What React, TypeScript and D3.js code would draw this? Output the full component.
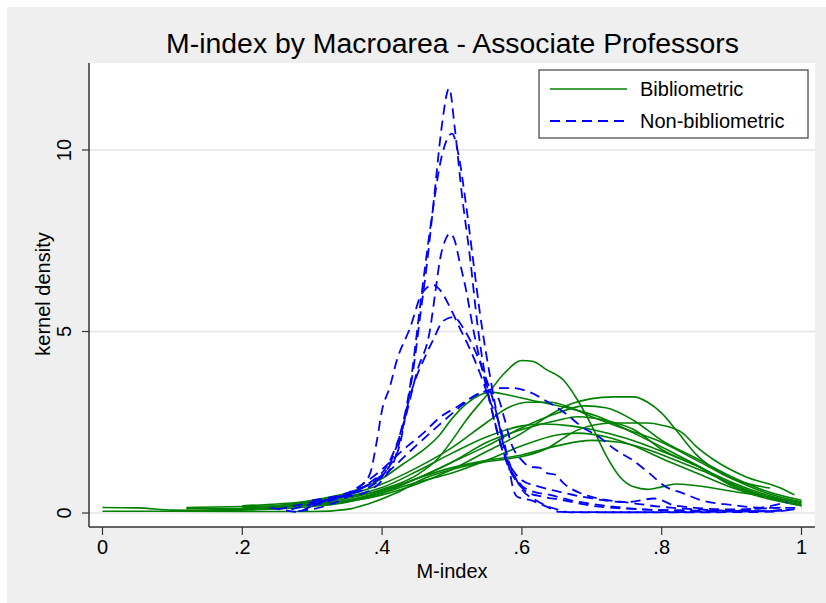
import React from "react";
import * as d3 from "d3";

// ---------- data ----------
const xTicks = [0, 0.2, 0.4, 0.6, 0.8, 1];
const xTickLabels = ["0", ".2", ".4", ".6", ".8", "1"];
const yTicks = [0, 5, 10];
const yTickLabels = ["0", "5", "10"];

const titleText = "M-index by Macroarea - Associate Professors";
const xLabel = "M-index";
const yLabel = "kernel density";
const legendLabels = ["Bibliometric", "Non-bibliometric"];

// Bibliometric macroareas (green, solid)
const bib1 = [[0.12,0.12],[0.2,0.12],[0.25,0.16],[0.3,0.25],[0.35,0.4],[0.4,0.65],[0.45,1.05],[0.48,1.5],[0.5,2.0],[0.52,2.55],[0.55,3.25],[0.575,3.85],[0.6,4.2],[0.615,4.18],[0.635,3.95],[0.66,3.65],[0.68,3.1],[0.7,2.4],[0.72,1.6],[0.74,1.0],[0.76,0.72],[0.78,0.65],[0.8,0.72],[0.82,0.8],[0.85,0.75],[0.9,0.6],[0.95,0.45],[0.97,0.38]];
const bib2 = [[0,0.15],[0.05,0.14],[0.1,0.08],[0.15,0.07],[0.2,0.12],[0.25,0.2],[0.3,0.35],[0.35,0.55],[0.4,0.95],[0.43,1.35],[0.46,1.75],[0.48,2.1],[0.5,2.6],[0.52,3.0],[0.54,3.25],[0.555,3.33],[0.58,3.25],[0.615,3.1],[0.66,2.92],[0.71,2.65],[0.76,2.2],[0.81,1.72],[0.855,1.27],[0.9,0.75],[0.95,0.45],[1.0,0.3]];
const bib3 = [[0.1,0.05],[0.2,0.1],[0.3,0.22],[0.35,0.32],[0.4,0.5],[0.45,0.8],[0.5,1.2],[0.55,1.7],[0.6,2.2],[0.64,2.7],[0.67,3.0],[0.7,3.15],[0.73,3.2],[0.76,3.2],[0.78,3.05],[0.8,2.75],[0.82,2.3],[0.85,1.6],[0.88,1.15],[0.91,0.88],[0.955,0.69]];
const bib4 = [[0.2,0.2],[0.25,0.25],[0.3,0.33],[0.35,0.5],[0.4,0.8],[0.45,1.25],[0.5,1.8],[0.55,2.5],[0.58,2.9],[0.61,3.05],[0.64,3.05],[0.67,2.9],[0.7,2.65],[0.75,2.3],[0.8,1.95],[0.85,1.45],[0.9,0.95],[0.95,0.55],[1.0,0.3]];
const bib5 = [[0.25,0.15],[0.3,0.3],[0.35,0.45],[0.4,0.62],[0.45,0.95],[0.5,1.4],[0.55,1.85],[0.6,2.35],[0.65,2.75],[0.69,2.95],[0.72,2.9],[0.76,2.55],[0.8,2.0],[0.85,1.5],[0.9,1.0],[0.95,0.6],[1.0,0.35]];
const bib6 = [[0.1,0.05],[0.2,0.08],[0.3,0.18],[0.35,0.3],[0.4,0.55],[0.45,0.95],[0.5,1.4],[0.55,1.95],[0.6,2.3],[0.65,2.55],[0.68,2.65],[0.72,2.55],[0.76,2.3],[0.8,1.75],[0.85,1.3],[0.9,0.85],[0.95,0.5],[1.0,0.25]];
const bib7 = [[0.2,0.15],[0.25,0.2],[0.3,0.3],[0.35,0.45],[0.4,0.7],[0.45,1.15],[0.5,1.65],[0.55,2.1],[0.6,2.4],[0.63,2.45],[0.67,2.4],[0.7,2.3],[0.75,2.05],[0.8,1.7],[0.85,1.3],[0.9,0.8],[0.95,0.45],[1.0,0.2]];
const bib8 = [[0.1,0.05],[0.2,0.04],[0.3,0.04],[0.35,0.1],[0.38,0.25],[0.42,0.55],[0.46,0.95],[0.5,1.2],[0.54,1.38],[0.59,1.52],[0.61,1.6],[0.64,1.82],[0.66,2.07],[0.68,2.29],[0.73,2.48],[0.78,2.48],[0.8,2.42],[0.83,2.2],[0.85,1.82],[0.875,1.46],[0.92,1.0],[0.97,0.69],[0.99,0.5]];
const bib9 = [[0,0.05],[0.1,0.05],[0.2,0.1],[0.3,0.22],[0.35,0.35],[0.4,0.55],[0.45,0.85],[0.5,1.1],[0.55,1.45],[0.6,1.85],[0.65,2.15],[0.68,2.2],[0.72,2.1],[0.76,1.85],[0.8,1.5],[0.85,1.1],[0.9,0.7],[0.95,0.4],[1.0,0.2]];
const bib10 = [[0.12,0.15],[0.2,0.18],[0.3,0.25],[0.35,0.35],[0.4,0.6],[0.45,0.95],[0.5,1.25],[0.55,1.45],[0.6,1.6],[0.65,1.85],[0.7,2.0],[0.74,1.95],[0.78,1.75],[0.82,1.45],[0.86,1.15],[0.9,0.8],[0.95,0.45],[1.0,0.22]];

// Non-bibliometric macroareas (blue, dashed)
const nonbib1 = [[0.3,0.3],[0.35,0.45],[0.38,0.6],[0.4,0.9],[0.42,1.6],[0.43,2.4],[0.445,4.0],[0.455,5.5],[0.465,7.0],[0.475,8.8],[0.485,10.6],[0.496,11.7],[0.504,10.6],[0.514,8.8],[0.526,7.0],[0.537,5.1],[0.55,3.5],[0.565,2.2],[0.58,1.3],[0.595,0.8],[0.61,0.55],[0.63,0.45],[0.66,0.35],[0.7,0.2],[0.75,0.12],[0.85,0.06],[0.95,0.05],[0.99,0.1]];
const nonbib2 = [[0.27,0.1],[0.3,0.25],[0.35,0.5],[0.38,0.7],[0.4,1.0],[0.42,1.8],[0.44,3.5],[0.455,5.8],[0.47,8.0],[0.485,9.8],[0.5,10.45],[0.51,9.8],[0.52,8.5],[0.53,7.0],[0.54,5.5],[0.555,3.7],[0.57,2.2],[0.58,1.5],[0.59,1.0],[0.6,0.65],[0.62,0.35],[0.65,0.1],[0.67,0.02],[0.75,0.02],[0.85,0.03],[0.95,0.05],[0.98,0.1]];
const nonbib3 = [[0.25,0.1],[0.3,0.3],[0.35,0.5],[0.38,0.8],[0.41,1.4],[0.43,2.4],[0.45,3.9],[0.469,5.1],[0.476,6.06],[0.483,7.0],[0.49,7.5],[0.497,7.7],[0.504,7.5],[0.51,7.0],[0.521,6.06],[0.53,5.1],[0.545,3.8],[0.56,2.6],[0.575,1.6],[0.59,1.1],[0.6,0.9],[0.62,0.75],[0.65,0.6],[0.7,0.4],[0.75,0.3],[0.79,0.4],[0.82,0.2],[0.9,0.1],[0.97,0.15]];
const nonbib4 = [[0.28,0.05],[0.32,0.2],[0.35,0.45],[0.368,0.72],[0.383,1.1],[0.392,1.93],[0.4,2.84],[0.411,3.47],[0.421,4.2],[0.44,5.1],[0.457,6.05],[0.473,6.28],[0.483,6.14],[0.497,5.67],[0.511,5.1],[0.526,4.5],[0.54,3.85],[0.554,3.1],[0.569,2.37],[0.578,1.65],[0.583,1.1],[0.588,0.63],[0.594,0.44],[0.611,0.36],[0.636,0.17],[0.654,0.03],[0.75,0.02],[0.85,0.02],[0.95,0.03],[0.99,0.1]];
const nonbib5 = [[0.24,0.14],[0.26,0.08],[0.278,0.03],[0.3,0.2],[0.33,0.4],[0.36,0.6],[0.39,0.9],[0.411,1.3],[0.426,1.93],[0.435,2.84],[0.449,3.75],[0.459,4.2],[0.473,4.77],[0.488,5.3],[0.502,5.4],[0.516,5.1],[0.53,4.6],[0.545,3.9],[0.559,3.1],[0.57,2.2],[0.578,1.46],[0.59,1.0],[0.6,0.75],[0.614,0.6],[0.64,0.5],[0.67,0.35],[0.72,0.2],[0.8,0.08],[0.9,0.06],[0.98,0.3]];
const nonbib6 = [[0.3,0.2],[0.34,0.44],[0.387,1.0],[0.435,1.82],[0.459,2.2],[0.483,2.64],[0.507,2.92],[0.54,3.3],[0.569,3.44],[0.588,3.44],[0.611,3.33],[0.637,3.06],[0.662,2.75],[0.686,2.37],[0.71,2.1],[0.734,1.74],[0.758,1.46],[0.782,1.1],[0.806,0.72],[0.83,0.55],[0.855,0.36],[0.9,0.22],[0.95,0.14],[1.0,0.14]];
const nonbib7 = [[0.3,0.35],[0.35,0.55],[0.4,1.0],[0.44,1.7],[0.48,2.4],[0.51,2.9],[0.53,3.2],[0.55,3.35],[0.565,3.2],[0.575,2.6],[0.585,1.9],[0.6,1.45],[0.612,1.27],[0.625,1.25],[0.636,1.1],[0.648,1.05],[0.659,0.83],[0.683,0.55],[0.707,0.41],[0.755,0.28],[0.8,0.17],[0.85,0.1],[0.9,0.06],[0.96,0.05]];

const bibSeries = [bib1, bib2, bib3, bib4, bib5, bib6, bib7, bib8, bib9, bib10];
const nonbibSeries = [nonbib1, nonbib2, nonbib3, nonbib4, nonbib5, nonbib6, nonbib7];

// ---------- layout ----------
const W = 826;
const H = 603;
const plotLeft = 89;
const plotRight = 815;
const plotTop = 63;
const plotBottom = 527;
const GREEN = "#008000";
const BLUE = "#0000ff";
const FONT = "'Liberation Sans', Arial, Helvetica, sans-serif";

export default function App() {
  const x = d3.scaleLinear().domain([0, 1]).range([102.5, 801.5]);
  const y = d3.scaleLinear().domain([0, 10]).range([513, 150]);
  const line = d3
    .line<number[]>()
    .x((d) => x(d[0]))
    .y((d) => y(d[1]))
    .curve(d3.curveMonotoneX);

  return (
    <svg
      width={W}
      height={H}
      style={{ position: "absolute", left: 0, top: 0, display: "block" }}
      fontFamily={FONT}
    >
      <rect x={0} y={0} width={W} height={H} fill="#ffffff" />
      <rect x={7} y={7} width={W - 7} height={H - 7} fill="#efefef" />
      <rect
        x={plotLeft}
        y={plotTop}
        width={plotRight - plotLeft}
        height={plotBottom - plotTop}
        fill="#ffffff"
      />
      {/* grid */}
      {yTicks.map((t) => (
        <line
          key={"g" + t}
          x1={plotLeft}
          x2={plotRight}
          y1={y(t)}
          y2={y(t)}
          stroke="#e4e4e4"
          strokeWidth={1.6}
        />
      ))}
      {/* curves */}
      {bibSeries.map((s, i) => (
        <path
          key={"b" + i}
          d={line(s) || ""}
          fill="none"
          stroke={GREEN}
          strokeWidth={1.6}
          strokeLinejoin="round"
        />
      ))}
      {nonbibSeries.map((s, i) => (
        <path
          key={"n" + i}
          d={line(s) || ""}
          fill="none"
          stroke={BLUE}
          strokeWidth={1.8}
          strokeDasharray="10,6"
          strokeLinejoin="round"
        />
      ))}
      {/* axes */}
      <line x1={plotLeft} x2={plotLeft} y1={plotTop} y2={plotBottom} stroke="#333" strokeWidth={1.5} />
      <line x1={plotLeft} x2={plotRight} y1={plotBottom} y2={plotBottom} stroke="#333" strokeWidth={1.5} />
      {yTicks.map((t, i) => (
        <g key={"yt" + t}>
          <line x1={plotLeft - 7} x2={plotLeft} y1={y(t)} y2={y(t)} stroke="#333" strokeWidth={1.2} />
          <text
            transform={`translate(${64},${y(t)}) rotate(-90)`}
            textAnchor="middle"
            dy="0.36em"
            fontSize={20}
            fill="#000"
          >
            {yTickLabels[i]}
          </text>
        </g>
      ))}
      {xTicks.map((t, i) => (
        <g key={"xt" + t}>
          <line x1={x(t)} x2={x(t)} y1={plotBottom} y2={plotBottom + 8} stroke="#333" strokeWidth={1.2} />
          <text x={x(t)} y={554} textAnchor="middle" fontSize={20} fill="#000">
            {xTickLabels[i]}
          </text>
        </g>
      ))}
      <text x={(plotLeft + plotRight) / 2} y={578} textAnchor="middle" fontSize={20} fill="#000">
        {xLabel}
      </text>
      <text
        transform={`translate(${43},${294}) rotate(-90)`}
        textAnchor="middle"
        dy="0.36em"
        fontSize={20}
        fill="#000"
      >
        {yLabel}
      </text>
      <text x={452.5} y={53} textAnchor="middle" fontSize={28.4} fill="#000">
        {titleText}
      </text>
      {/* legend */}
      <rect x={539} y={70} width={269} height={68} fill="#ffffff" stroke="#404040" strokeWidth={1.2} />
      <line x1={550} x2={627} y1={89} y2={89} stroke={GREEN} strokeWidth={1.6} />
      <line x1={550} x2={627} y1={121} y2={121} stroke={BLUE} strokeWidth={1.8} strokeDasharray="10,6" />
      <text x={640} y={96} fontSize={20} fill="#000">
        {legendLabels[0]}
      </text>
      <text x={640} y={128} fontSize={20} fill="#000">
        {legendLabels[1]}
      </text>
    </svg>
  );
}
